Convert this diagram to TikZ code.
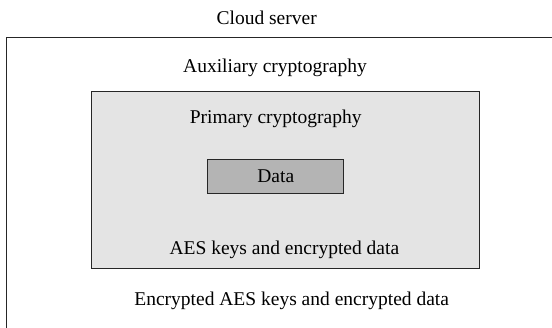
\documentclass[tikz,border=0pt]{standalone}
\usepackage{fontspec}
\setmainfont{Liberation Serif}
\usetikzlibrary{positioning}
\definecolor{primfill}{HTML}{E4E4E4}
\definecolor{datafill}{HTML}{B4B4B4}
\tikzset{
  % contenitore esterno/interno
  layerbox/.style={draw=black!85, line width=1.2pt, inner sep=0pt},
  databox/.style={draw=black!85, line width=1.2pt, fill=datafill, inner sep=0pt,
    minimum width=136pt, minimum height=34pt},
  % etichette (posizionate sulla linea di base)
  lbl/.style={font=\fontsize{19.5}{22}\selectfont, inner sep=0pt, anchor=base},
}
\begin{document}
\begin{tikzpicture}[x=1pt, y=-1pt]
  \useasboundingbox (0,0) rectangle (552,328);
  \node[layerbox, minimum width=560pt, minimum height=300pt, anchor=north west] (aux) at (6,37) {};
  \node[layerbox, fill=primfill, minimum width=388pt, minimum height=177pt, anchor=north west] (prim) at (91,91) {};
  \node[databox] (data) at (275.7,176.3) {};
  \node[lbl] (tcloud) at (266.7,25) {Cloud server};
  \node[lbl] (taux) at (275,72.3) {Auxiliary cryptography};
  \node[lbl] (tprim) at (275.7,124) {Primary cryptography};
  \node[lbl] (tdata) at (275.8,182.7) {Data};
  \node[lbl] (tkeys) at (284.4,254.7) {AES keys and encrypted data};
  \node[lbl] (tenc) at (291.7,306) {Encrypted AES keys and encrypted data};
\end{tikzpicture}
\end{document}
